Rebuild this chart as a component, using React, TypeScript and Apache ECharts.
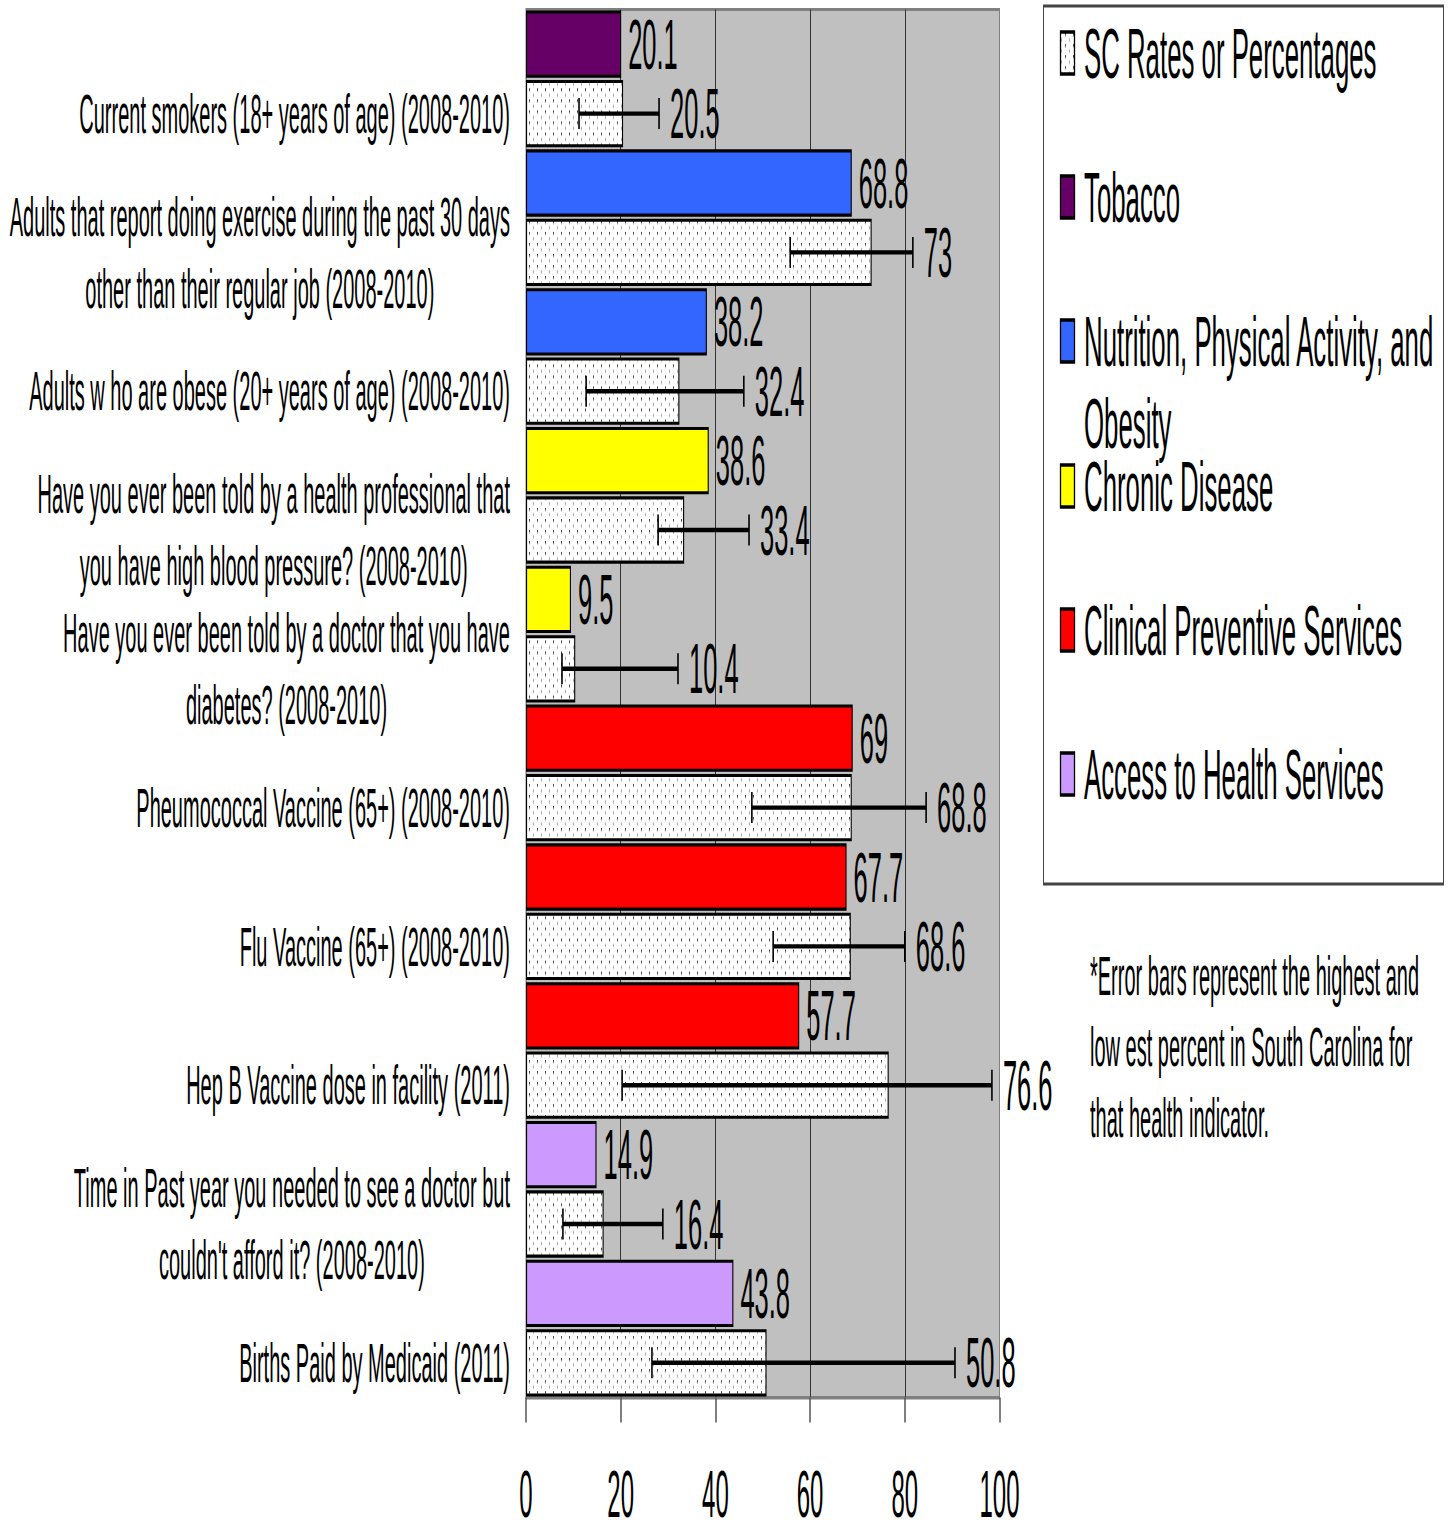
import React, { useEffect, useRef } from "react";
import * as echarts from "echarts";

// ---------- data ----------
const categories: string[] = [
  "Current smokers (18+ years of age) (2008-2010)",
  "Adults that report doing exercise during the past 30 days\nother than their regular job (2008-2010)",
  "Adults w ho are obese (20+ years of age) (2008-2010)",
  "Have you ever been told by a health professional that\nyou have high blood pressure? (2008-2010)",
  "Have you ever been told by a doctor that you have\ndiabetes? (2008-2010)",
  "Pheumococcal Vaccine (65+) (2008-2010)",
  "Flu Vaccine (65+) (2008-2010)",
  "Hep B Vaccine dose in facility (2011)",
  "Time in Past year you needed to see a doctor but\ncouldn't afford it? (2008-2010)",
  "Births Paid by Medicaid (2011)",
];
const categoryGroup: number[] = [0, 1, 1, 2, 2, 3, 3, 3, 4, 4];
const groupValues: number[] = [20.1, 68.8, 38.2, 38.6, 9.5, 69, 67.7, 57.7, 14.9, 43.8];
const scValues: number[] = [20.5, 73, 32.4, 33.4, 10.4, 68.8, 68.6, 76.6, 16.4, 50.8];
const scLow: number[] = [11.2, 55.8, 12.7, 27.9, 7.6, 47.7, 52.2, 20.3, 7.8, 26.6];
const scHigh: number[] = [28.1, 81.7, 46.0, 47.1, 32.1, 84.5, 80.0, 98.4, 28.9, 90.6];
const scName = "SC Rates or Percentages";
const groupNames: string[] = [
  "Tobacco",
  "Nutrition, Physical Activity, and\nObesity",
  "Chronic Disease",
  "Clinical Preventive Services",
  "Access to Health Services",
];
const groupColors: string[] = ["#660066", "#3366FF", "#FFFF00", "#FF0000", "#CC99FF"];
const xTicks: number[] = [0, 20, 40, 60, 80, 100];
const noteLines: string[] = [
  "*Error bars represent the highest and",
  "low est percent in South Carolina for",
  "that health indicator.",
];

// ---------- layout ----------
const W = 1451;
const H = 1532;
const H0 = 555; // chart drawn at this height, then stretched vertically
const K = H / H0;
const FONT = "'Liberation Sans', Arial, sans-serif";

function makePattern() {
  const c = document.createElement("canvas");
  c.width = 8;
  c.height = 4;
  const ctx = c.getContext("2d")!;
  ctx.fillStyle = "#ffffff";
  ctx.fillRect(0, 0, 8, 4);
  ctx.fillStyle = "#444444";
  ctx.fillRect(1, 0, 1, 1);
  ctx.fillStyle = "#999999";
  ctx.fillRect(5, 2, 1, 1);
  return { image: c.toDataURL(), repeat: "repeat", imageWidth: 8, imageHeight: 4 };
}

export default function App() {
  const ref = useRef<HTMLDivElement>(null);

  useEffect(() => {
    if (!ref.current) return;
    const chart = echarts.init(ref.current, null, { renderer: "svg", width: W, height: H0 });
    const pattern: any = makePattern();

    const rowNames = Array.from({ length: categories.length * 2 }, (_, i) => "r" + i);

    const groupSeries = groupNames.map((name, g) => ({
      name: name.replace("\n", " "),
      type: "bar",
      data: rowNames.map((_, r) =>
        r % 2 === 0 && categoryGroup[r / 2] === g ? groupValues[r / 2] : "-"
      ),
      barGap: "-100%",
      barCategoryGap: "3%",
      itemStyle: { color: groupColors[g], borderColor: "#000", borderWidth: 1.1 },
      label: {
        show: true,
        position: "right",
        distance: 7,
        fontSize: 25.5,
        fontFamily: FONT,
        color: "#000",
      },
      z: 3,
    }));

    const scSeries = {
      name: scName,
      type: "bar",
      data: rowNames.map((_, r) => (r % 2 === 1 ? scValues[(r - 1) / 2] : "-")),
      barGap: "-100%",
      barCategoryGap: "3%",
      itemStyle: { color: pattern, borderColor: "#000", borderWidth: 1.1 },
      z: 3,
    };

    const errorSeries = {
      name: "SC range",
      type: "custom",
      coordinateSystem: "cartesian2d",
      data: scValues.map((v, i) => [scLow[i], scHigh[i], 2 * i + 1, v]),
      encode: { x: [0, 1], y: 2 },
      z: 6,
      clip: false,
      renderItem: (_params: any, api: any) => {
        const r = api.value(2);
        const p1 = api.coord([api.value(0), r]);
        const p2 = api.coord([api.value(1), r]);
        const y = p1[1];
        const h = 15.5 / K;
        const st = { stroke: "#000", lineWidth: 1.6 };
        return {
          type: "group",
          children: [
            { type: "line", shape: { x1: p1[0], y1: y, x2: p2[0], y2: y }, style: st },
            { type: "line", shape: { x1: p1[0], y1: y - h, x2: p1[0], y2: y + h }, style: st },
            { type: "line", shape: { x1: p2[0], y1: y - h, x2: p2[0], y2: y + h }, style: st },
            {
              type: "text",
              x: p2[0] + 11,
              y: y,
              style: {
                text: String(api.value(3)),
                fill: "#000",
                fontSize: 25.5,
                fontFamily: FONT,
                align: "left",
                verticalAlign: "middle",
              },
            },
          ],
        };
      },
    };

    // legend (drawn as graphic)
    const legendCenters = [53, 197, 341, 486, 630, 774].map((v) => v / K);
    const legendItems = [
      { name: scName, fill: pattern },
      ...groupNames.map((n, g) => ({ name: n, fill: groupColors[g] })),
    ];
    const LLH = 82.5 / K;
    const markerH = 42 / K;
    const graphic: any[] = [
      {
        type: "rect",
        shape: { x: 1043.5, y: 6 / K, width: 400, height: (884 - 6) / K },
        style: { fill: "#fff", stroke: "#444", lineWidth: 1 },
        z: 1,
      },
    ];
    legendItems.forEach((it, i) => {
      const cy = legendCenters[i];
      graphic.push({
        type: "rect",
        shape: { x: 1060.5, y: cy - markerH / 2, width: 14, height: markerH },
        style: { fill: it.fill, stroke: "#000", lineWidth: 1.3 },
        z: 2,
      });
      it.name.split("\n").forEach((line, j) => {
        graphic.push({
          type: "text",
          x: 1084,
          y: cy + j * LLH,
          style: {
            text: line,
            fill: "#000",
            fontSize: 25.8,
            fontFamily: FONT,
            lineHeight: 22,
            align: "left",
            verticalAlign: "middle",
          },
          z: 2,
        });
      });
    });
    const NLH = 70.75 / K;
    noteLines.forEach((line, j) => {
      graphic.push({
        type: "text",
        x: 1090,
        y: 976 / K + j * NLH,
        style: {
          text: line,
          fill: "#000",
          fontSize: 20,
          fontFamily: FONT,
          lineHeight: 20,
          align: "left",
          verticalAlign: "middle",
        },
        z: 2,
      });
    });

    const catLH = 72 / K;
    const plotBottom = 1397.5 / K;
    const tickLabelLH = 18;

    chart.setOption({
      animation: false,
      backgroundColor: "#ffffff",
      textStyle: { fontFamily: FONT, color: "#000" },
      grid: {
        left: 526,
        right: W - 999.5,
        top: 9.5 / K,
        bottom: H0 - plotBottom,
        show: true,
        backgroundColor: "#C0C0C0",
        borderColor: "#808080",
        borderWidth: 1,
        containLabel: false,
        outerBoundsMode: "none",
      },
      xAxis: {
        type: "value",
        min: xTicks[0],
        max: xTicks[xTicks.length - 1],
        interval: xTicks[1] - xTicks[0],
        axisLine: { show: true, lineStyle: { color: "#808080", width: 1 } },
        axisTick: { show: true, length: 25 / K, lineStyle: { color: "#555", width: 1.5 } },
        axisLabel: {
          fontSize: 24,
          lineHeight: tickLabelLH,
          margin: 1494 / K - plotBottom - tickLabelLH / 2,
          color: "#000",
          fontFamily: FONT,
        },
        splitLine: {
          show: true,
          lineStyle: {
            color: ["#808080", "#333", "#333", "#333", "#333", "#808080"],
            width: 1,
          },
        },
      },
      yAxis: {
        type: "category",
        data: rowNames,
        inverse: true,
        axisLine: { show: true, lineStyle: { color: "#808080", width: 1 } },
        axisTick: { show: false },
        splitLine: { show: false },
        axisLabel: {
          interval: 0,
          margin: 16,
          color: "#000",
          fontFamily: FONT,
          fontSize: 20,
          lineHeight: catLH,
          formatter: (value: string) => {
            const r = Number(String(value).slice(1));
            if (r % 2 === 0) return "";
            const text = categories[(r - 1) / 2];
            return text
              .split("\n")
              .map((l) => "{c|" + l + "}")
              .join("\n");
          },
          rich: {
            c: {
              align: "center",
              fontSize: 20,
              lineHeight: catLH,
              fontFamily: FONT,
              color: "#000",
            },
          },
        },
      },
      series: [...groupSeries, scSeries, errorSeries],
      graphic,
    } as any);

    return () => {
      chart.dispose();
    };
  }, []);

  return (
    <div
      style={{
        position: "absolute",
        left: 0,
        top: 0,
        width: W,
        height: H,
        overflow: "hidden",
        background: "#fff",
      }}
    >
      <div
        ref={ref}
        style={{
          width: W,
          height: H0,
          transform: `scaleY(${K})`,
          transformOrigin: "0 0",
        }}
      />
    </div>
  );
}
